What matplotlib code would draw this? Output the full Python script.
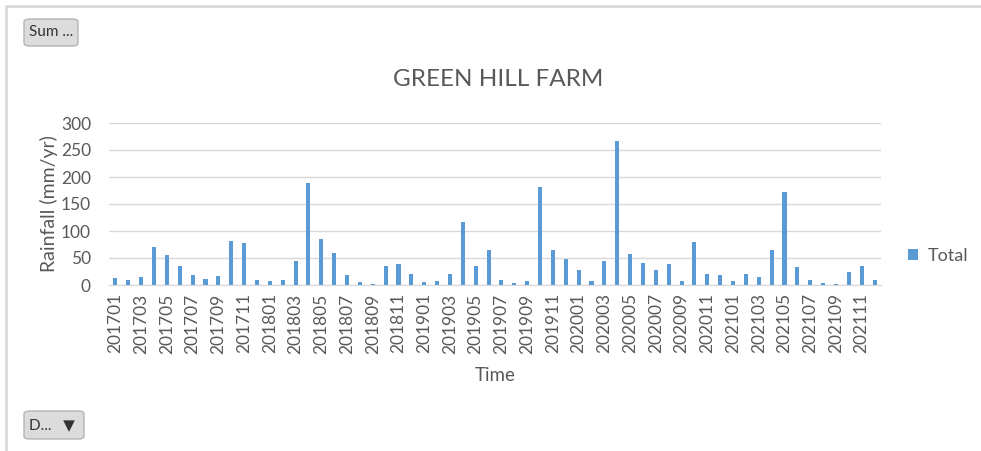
import numpy as np
import matplotlib.pyplot as plt
from matplotlib.lines import Line2D
from matplotlib.patches import FancyBboxPatch

plt.rcParams['font.family'] = ['Lato', 'DejaVu Sans']

# monthly rainfall totals, Jan 2017 - Dec 2021
months = [f"{y}{m:02d}" for y in range(2017, 2022) for m in range(1, 13)]
total = [13, 9, 14, 70, 55, 35, 18, 12, 17, 81, 77, 9,
         7, 10, 44, 189, 86, 60, 18, 5, 2, 35, 38, 21,
         5, 7, 21, 117, 35, 64, 10, 3, 7, 181, 64, 49,
         27, 7, 44, 267, 58, 40, 27, 38, 7, 79, 21, 18,
         7, 20, 15, 64, 172, 33, 9, 3, 2, 25, 35, 10]
yticks = [0, 50, 100, 150, 200, 250, 300]

grey = '#595959'
W, H = 981, 451
fig = plt.figure(figsize=(W / 100, H / 100), dpi=100)

# left and top edges of the chart frame
fig.add_artist(Line2D([6 / W, 6 / W, 1], [0, 1 - 5.5 / H, 1 - 5.5 / H],
                      transform=fig.transFigure, color='#d9d9d9', lw=2))

ax = fig.add_axes([109 / W, 1 - 285 / H, (881 - 109) / W, (285 - 123) / H])
x = np.arange(len(months))
ax.bar(x, total, width=0.32, color='#5b9bd5', label='Total', zorder=3)
ax.set_xlim(-0.5, len(months) - 0.5)
ax.set_ylim(0, 300)
ax.set_yticks(yticks)
ax.grid(axis='y', color='#d9d9d9', lw=1)
ax.set_xticks(x[::2])
ax.set_xticklabels(months[::2], rotation=90)
ax.tick_params(length=0, colors=grey, labelsize=12.5)
ax.tick_params(axis='x', pad=6)
ax.tick_params(axis='y', pad=13)
for s in ['top', 'right', 'left']:
    ax.spines[s].set_visible(False)
ax.spines['bottom'].set_color('#d9d9d9')

fig.text(498 / W, 1 - 80 / H, 'GREEN HILL FARM', fontsize=17.5, color=grey,
         ha='center', va='center')
ax.set_ylabel('Rainfall (mm/yr)', fontsize=14, color=grey, labelpad=2)
ax.set_xlabel('Time', fontsize=13.5, color=grey, labelpad=10)
ax.legend(loc='center left', bbox_to_anchor=(1.025, (285 - 256) / 162), frameon=False,
          fontsize=13, labelcolor=grey, handlelength=0.6, handleheight=0.6,
          handletextpad=0.5, borderaxespad=0)


def button(x0, y0, w, h, text):
    fig.patches.append(FancyBboxPatch((x0 / W, 1 - (y0 + h) / H), w / W, h / H,
                                      boxstyle='round,pad=0,rounding_size=0.006',
                                      transform=fig.transFigure, facecolor='#dcdcdc',
                                      edgecolor='#b4b4b4', lw=1))
    fig.text((x0 + 5) / W, 1 - (y0 + h / 2) / H, text, fontsize=11,
             color='#333333', va='center', ha='left')


button(24, 19, 54, 27, 'Sum ...')
button(24, 411, 60, 28, 'D...   \u25bc')

fig.savefig('out.png', dpi=100)
